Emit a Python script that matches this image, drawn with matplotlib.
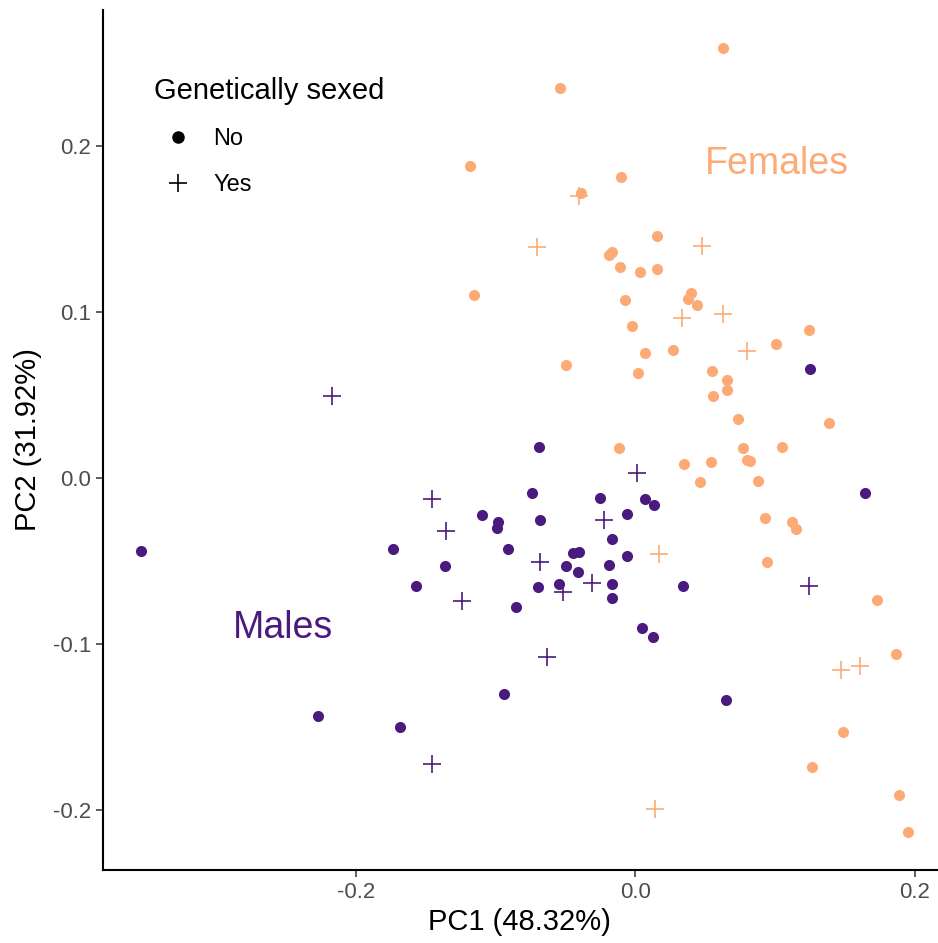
import matplotlib
matplotlib.use('Agg')
import matplotlib.pyplot as plt
from matplotlib.lines import Line2D

plt.rcParams['font.family'] = ['Liberation Sans', 'DejaVu Sans']

# couleurs des deux groupes
col_male = '#4b1a7e'
col_female = '#fdab76'

# males, non sexés génétiquement (points)
male_no_x = [-0.3536, -0.2271, -0.1736, -0.1571, -0.1364, -0.1093, -0.0979, -0.0986,
             -0.0907, -0.0850, -0.0686, -0.0736, -0.0679, -0.0693, -0.0543, -0.0493,
             -0.0443, -0.0400, -0.0407, -0.0936, -0.1686, -0.0250, -0.0164, -0.0186,
             -0.0164, -0.0164, 0.0071, 0.0136, -0.0057, -0.0057, 0.0343, 0.0050,
             0.0129, 0.0650, 0.1250, 0.1643]
male_no_y = [-0.0440, -0.1434, -0.0428, -0.0651, -0.0530, -0.0223, -0.0265, -0.0301,
             -0.0428, -0.0777, 0.0187, -0.0090, -0.0253, -0.0657, -0.0639, -0.0530,
             -0.0452, -0.0446, -0.0566, -0.1301, -0.1500, -0.0120, -0.0367, -0.0524,
             -0.0639, -0.0723, -0.0127, -0.0163, -0.0217, -0.0470, -0.0651, -0.0904,
             -0.0958, -0.1337, 0.0657, -0.0090]

# males, sexés génétiquement (croix)
male_yes_x = [-0.2171, -0.1457, -0.1357, -0.1236, -0.0679, -0.0514, -0.0629, -0.1457,
              -0.0221, -0.0307, 0.0014, 0.1243]
male_yes_y = [0.0494, -0.0127, -0.0319, -0.0741, -0.0506, -0.0687, -0.1078, -0.1723,
              -0.0253, -0.0633, 0.0030, -0.0651]

# femelles, non sexées génétiquement (points)
female_no_x = [0.0629, -0.0536, -0.1179, -0.0100, -0.0386, 0.0157, -0.0164, -0.0186,
               -0.0107, 0.0036, 0.0157, -0.1157, -0.0071, -0.0021, 0.0071, 0.0271,
               -0.0493, 0.0021, 0.0400, 0.0379, 0.0443, 0.1243, 0.1007, 0.0550,
               0.0657, 0.0657, 0.0557, 0.0736, 0.1386, 0.0771, 0.1050, 0.0800,
               0.0821, -0.0114, 0.0350, 0.0543, 0.0464, 0.0879, 0.0929, 0.1121,
               0.1150, 0.0943, 0.1729, 0.1864, 0.1486, 0.1264, 0.1886, 0.1950]
female_no_y = [0.2590, 0.2349, 0.1880, 0.1813, 0.1717, 0.1458, 0.1361, 0.1343,
               0.1271, 0.1241, 0.1259, 0.1102, 0.1072, 0.0916, 0.0753, 0.0771,
               0.0681, 0.0633, 0.1114, 0.1078, 0.1042, 0.0892, 0.0807, 0.0645,
               0.0590, 0.0530, 0.0494, 0.0355, 0.0331, 0.0181, 0.0187, 0.0108,
               0.0102, 0.0181, 0.0084, 0.0096, -0.0024, -0.0018, -0.0241, -0.0265,
               -0.0307, -0.0506, -0.0735, -0.1060, -0.1530, -0.1741, -0.1910, -0.2133]

# femelles, sexées génétiquement (croix)
female_yes_x = [-0.0400, -0.0700, 0.0479, 0.0336, 0.0629, 0.0800, 0.0171, 0.1471,
                0.1607, 0.0143]
female_yes_y = [0.1699, 0.1392, 0.1398, 0.0964, 0.0988, 0.0765, -0.0458, -0.1157,
                -0.1133, -0.1994]

fig = plt.figure(figsize=(9.38, 9.43), dpi=100)
ax = fig.add_axes([0.1098, 0.0774, 0.889, 0.912])

ax.scatter(female_no_x, female_no_y, s=64, color=col_female, marker='o', linewidths=0)
ax.scatter(female_yes_x, female_yes_y, s=160, color=col_female, marker='+', linewidths=1.2)
ax.scatter(male_no_x, male_no_y, s=64, color=col_male, marker='o', linewidths=0)
ax.scatter(male_yes_x, male_yes_y, s=160, color=col_male, marker='+', linewidths=1.2)

# étiquettes des groupes
ax.text(0.1014, 0.1892, 'Females', color=col_female, fontsize=27, ha='center', va='center')
ax.text(-0.2521, -0.0904, 'Males', color=col_male, fontsize=27, ha='center', va='center')

ax.set_xlim(-0.3807, 0.2157)
ax.set_ylim(-0.2361, 0.2819)
ax.set_xticks([-0.2, 0.0, 0.2])
ax.set_yticks([-0.2, -0.1, 0.0, 0.1, 0.2])
ax.set_xticklabels(['-0.2', '0.0', '0.2'])
ax.set_yticklabels(['-0.2', '-0.1', '0.0', '0.1', '0.2'])
ax.tick_params(labelsize=16, labelcolor='#4d4d4d', color='#333333', length=5, width=1.1)

ax.set_xlabel('PC1 (48.32%)', fontsize=21, labelpad=4)
ax.set_ylabel('PC2 (31.92%)', fontsize=21, labelpad=8)

ax.spines['top'].set_visible(False)
ax.spines['right'].set_visible(False)
ax.spines['left'].set_linewidth(1.5)
ax.spines['bottom'].set_linewidth(1.5)

handles = [Line2D([], [], linestyle='none', marker='o', color='black', markersize=8),
           Line2D([], [], linestyle='none', marker='+', color='black', markersize=12.5,
                  markeredgewidth=1.2)]
leg = ax.legend(handles, ['No', 'Yes'], title='Genetically sexed', loc='upper left',
                bbox_to_anchor=(0.0466, 0.936), frameon=False, fontsize=17,
                title_fontsize=21, alignment='left', handlelength=2.1,
                handletextpad=0.42, labelspacing=1.0, borderpad=0)

fig.savefig('out.png', dpi=100)
